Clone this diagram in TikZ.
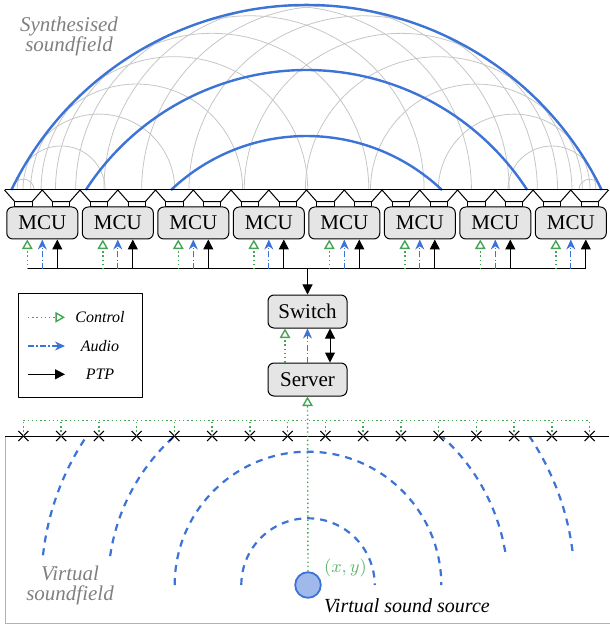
\documentclass[tikz,border=0pt]{standalone}
\usepackage{fontspec}
\setmainfont{Liberation Serif}
\usetikzlibrary{arrows.meta,calc,shapes.misc}
\definecolor{wfsblue}{RGB}{60,115,215}
\definecolor{srcfill}{RGB}{160,185,235}
\definecolor{ctrlgreen}{RGB}{70,165,85}
\definecolor{labelgreen}{RGB}{100,180,110}
\tikzset{
  ptptip/.tip={Triangle[length=5pt,width=5pt]},
  box/.style={draw, fill=gray!20, rounded corners=3pt, minimum width=35.5pt,
    minimum height=16pt, inner sep=0pt, line width=0.5pt, font=\fontsize{10.5}{12}\selectfont},
  ctrlline/.style={ctrlgreen, line width=0.7pt, dash pattern=on 0.7pt off 1.4pt},
  ctrl/.style={ctrlline, -{Triangle[open,length=4.8pt,width=5.3pt]}},
  audio/.style={wfsblue, line width=0.6pt, dash pattern=on 3pt off 1.2pt on 0.6pt off 1.2pt,
    -{Stealth[length=5pt,width=4.5pt]}},
  ptp/.style={line width=0.5pt, -ptptip},
  xmark/.style={cross out, draw, line width=0.55pt, minimum size=4.5pt, inner sep=0pt},
  fieldlabel/.style={gray, align=center, font=\fontsize{10.5}{10}\selectfont\itshape},
}
\begin{document}
\begin{tikzpicture}[x=0.5pt, y=-0.5pt, line join=round]
  \useasboundingbox (0,0) rectangle (609,625);
  \def\cx{306.5} \def\cy{333}
  % secondary wavelets and synthesised wavefronts
  \foreach \i in {0,...,15} {
    \pgfmathsetmacro\sx{23.4+37.75*\i}
    \pgfmathsetmacro\rad{328-100*sqrt(((\sx-\cx)/100)^2+1.43^2)}
    \draw[gray!45, line width=0.4pt] (\sx-\rad,190) arc[start angle=180, end angle=360, radius=\rad];
  }
  \foreach \R in {328,263,197} {
    \pgfmathsetmacro\a{asin(143/\R)}
    \draw[wfsblue, line width=1.2pt] (\cx,\cy) ++(180+\a:\R)
      arc[start angle=180+\a, end angle=360-\a, radius=\R];
  }
  % loudspeakers
  \draw[line width=0.5pt] (5,190) -- (608,190);
  \foreach \i in {0,...,15} {
    \pgfmathsetmacro\sx{23.4+37.75*\i}
    \draw[line width=0.5pt] (\sx-18.9,190) -- (\sx-8.6,201.7) -- (\sx+8.6,201.7) -- (\sx+18.9,190);
    \draw[line width=0.5pt] (\sx-8.6,201.7) rectangle (\sx+8.6,206.7);
  }
  \foreach \k in {1,...,8}
    \node[box] (m\k) at ({42.3+75.5*(\k-1)},223) {MCU};
  % network
  \coordinate (busL) at (27.3,269);
  \coordinate (busR) at (585.8,269);
  \draw[line width=0.5pt] (busL) -- (busR);
  \foreach \k in {1,...,8} {
    \draw[ctrl] ($(m\k.south)+(-15,30)$) -- ($(m\k.south)+(-15,0)$);
    \draw[audio] ($(m\k.south)+(0,30)$) -- (m\k.south);
    \draw[ptp] ($(m\k.south)+(15,30)$) -- ($(m\k.south)+(15,0)$);
  }
  \node[box, minimum width=39.5pt, minimum height=16.5pt] (sw) at (307.5,311.5) {Switch};
  \node[box, minimum width=39.5pt, minimum height=16.5pt] (sv) at (307.5,379.5) {Server};
  \draw[ptp] (busL -| sw.north) -- (sw.north);
  \draw[ctrl] ($(sv.north)+(-22.5,0)$) -- ($(sw.south)+(-22.5,0)$);
  \draw[audio] (sv.north) -- (sw.south);
  \draw[line width=0.5pt, ptptip-ptptip] ($(sv.north)+(22.5,0)$) -- ($(sw.south)+(22.5,0)$);
  % legend
  \node[draw, line width=0.5pt, minimum width=62.2pt, minimum height=52pt] (legend) at (80.5,345.3) {};
  \foreach \y/\sty/\txt in {317.3/ctrl/Control, 346/audio/Audio, 374.3/ptp/PTP} {
    \coordinate (l\sty) at (28,\y);
    \draw[\sty] (l\sty) -- ++(37,0);
    \node[font=\footnotesize\itshape] (t\sty) at (100,\y) {\txt};
  }
  % virtual soundfield
  \draw[gray!60, line width=0.5pt] (5,436) -- (5,623) -- (615,623);
  \begin{scope}
    \clip (5,436) rectangle (609,625);
    \foreach \rad/\a in {66.7/0, 133.3/0, 200/8.3, 266.7/6.4}
      \draw[wfsblue, line width=1.1pt, dash pattern=on 3.5pt off 3pt] (308,585) ++(180+\a:\rad)
        arc[start angle=180+\a, end angle=360-\a, radius=\rad];
  \end{scope}
  \draw[line width=0.5pt] (5,436) -- (609,436);
  \coordinate (ctrlbus) at (0,420.7);
  \foreach \i in {1,...,16} {
    \node[xmark] (x\i) at ({23.4+37.75*(\i-1)},436) {};
    \draw[ctrlline] (x\i.center) -- (x\i.center |- ctrlbus);
  }
  \draw[ctrlline] (x1.center |- ctrlbus) -- (x16.center |- ctrlbus);
  \node[circle, draw=wfsblue, fill=srcfill, line width=0.9pt, minimum size=12.8pt, inner sep=0pt] (src) at (308,585) {};
  \draw[ctrl] (src.north) -- (sv.south);
  \node[labelgreen, anchor=west, font=\small] (xy) at (317,568) {$(x,y)$};
  \node[font=\itshape, anchor=base] (srclabel) at (407,612) {Virtual sound source};
  \node[fieldlabel] (synth) at (69,36) {Synthesised\\soundfield};
  \node[fieldlabel] (virt) at (70,585) {Virtual\\soundfield};
\end{tikzpicture}
\end{document}
